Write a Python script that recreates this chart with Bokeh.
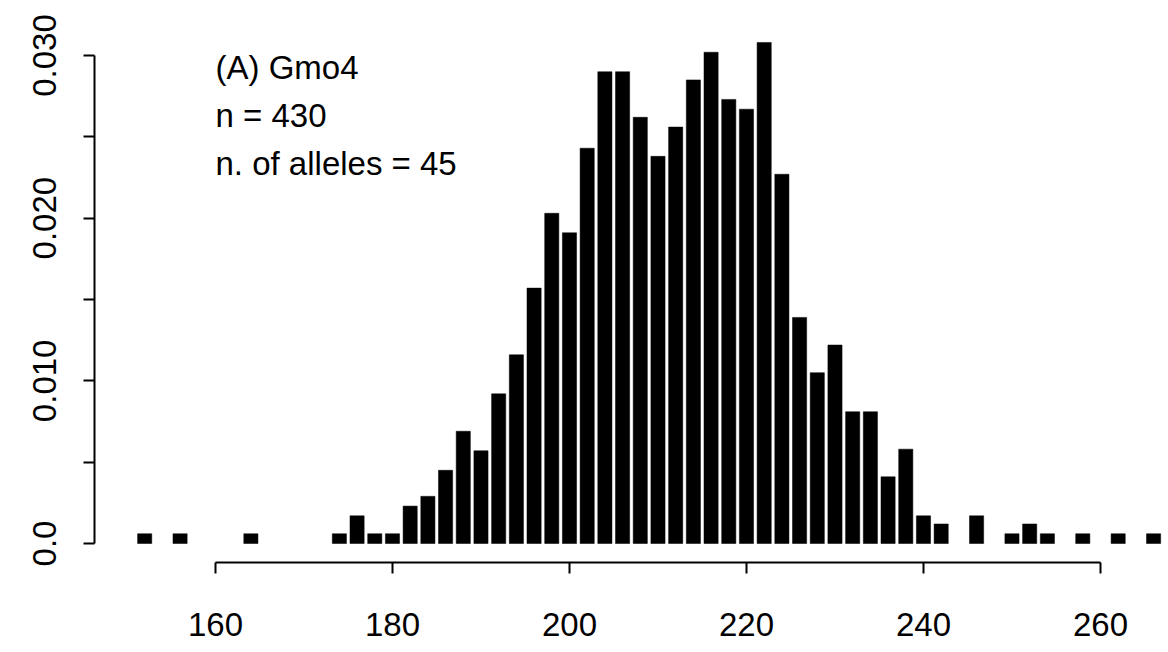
from bokeh.plotting import figure
from bokeh.models import LinearAxis, FixedTicker, Label, ColumnDataSource
from bokeh.embed import file_html
from bokeh.resources import INLINE

# ---- data ----
allele_sizes = [152, 156, 164, 174, 176, 178, 180, 182, 184, 186, 188, 190, 192, 194,
                196, 198, 200, 202, 204, 206, 208, 210, 212, 214, 216, 218, 220, 222,
                224, 226, 228, 230, 232, 234, 236, 238, 240, 242, 246, 250, 252, 254,
                258, 262, 266]
frequencies = [0.0006, 0.0006, 0.0006, 0.0006, 0.0017, 0.0006, 0.0006, 0.0023, 0.0029,
               0.0045, 0.0069, 0.0057, 0.0092, 0.0116, 0.0157, 0.0203, 0.0191, 0.0243,
               0.0290, 0.0290, 0.0262, 0.0238, 0.0256, 0.0285, 0.0302, 0.0273, 0.0267,
               0.0308, 0.0227, 0.0139, 0.0105, 0.0122, 0.0081, 0.0081, 0.0041, 0.0058,
               0.0017, 0.0012, 0.0017, 0.0006, 0.0012, 0.0006, 0.0006, 0.0006, 0.0006]
x_ticks = [160, 180, 200, 220, 240, 260]
y_major_ticks = [0.0, 0.01, 0.02, 0.03]
y_major_labels = ["0.0", "0.010", "0.020", "0.030"]
y_minor_ticks = [0.005, 0.015, 0.025]
annotation_lines = ["(A) Gmo4", "n = 430", "n. of alleles = 45"]
annotation_y = [0.02926, 0.02631, 0.02336]

FONT = "Liberation Sans"

p = figure(width=1168, height=652, x_range=(146.33, 267.46), y_range=(-0.001168, 0.032766),
           output_backend="svg", toolbar_location=None,
           x_axis_location=None, y_axis_location=None,
           min_border_left=94, min_border_right=2, min_border_top=10, min_border_bottom=90)
p.outline_line_color = None
p.background_fill_color = "white"
p.border_fill_color = "white"
p.grid.visible = False

src = ColumnDataSource(dict(x=allele_sizes, top=frequencies))
p.vbar(x="x", top="top", bottom=0, width=1.6, source=src,
       fill_color="black", line_color="black", line_width=0.5)

xaxis = LinearAxis(bounds=(x_ticks[0], x_ticks[-1]), ticker=FixedTicker(ticks=x_ticks))
yaxis = LinearAxis(bounds=(y_major_ticks[0], y_major_ticks[-1]),
                   ticker=FixedTicker(ticks=y_major_ticks, minor_ticks=y_minor_ticks))
yaxis.major_label_overrides = dict(zip(y_major_ticks, y_major_labels))
yaxis.major_label_orientation = "vertical"

for ax, standoff in ((xaxis, 39), (yaxis, 27)):
    ax.axis_line_width = 2
    ax.axis_line_color = "black"
    ax.major_tick_line_width = 2
    ax.major_tick_line_color = "black"
    ax.major_tick_out = 11
    ax.major_tick_in = 0
    ax.minor_tick_line_width = 2
    ax.minor_tick_line_color = "black"
    ax.minor_tick_out = 11
    ax.minor_tick_in = 0
    ax.major_label_text_font = FONT
    ax.major_label_text_font_size = "33px"
    ax.major_label_text_color = "black"
    ax.major_label_standoff = standoff
xaxis.minor_tick_line_color = None

p.add_layout(xaxis, "below")
p.add_layout(yaxis, "left")

for txt, yy in zip(annotation_lines, annotation_y):
    p.add_layout(Label(x=x_ticks[0], y=yy, text=txt, text_font=FONT, text_font_size="33px",
                       text_color="black", text_baseline="alphabetic", text_align="left"))

open("out.html", "w").write(file_html(p, INLINE))
